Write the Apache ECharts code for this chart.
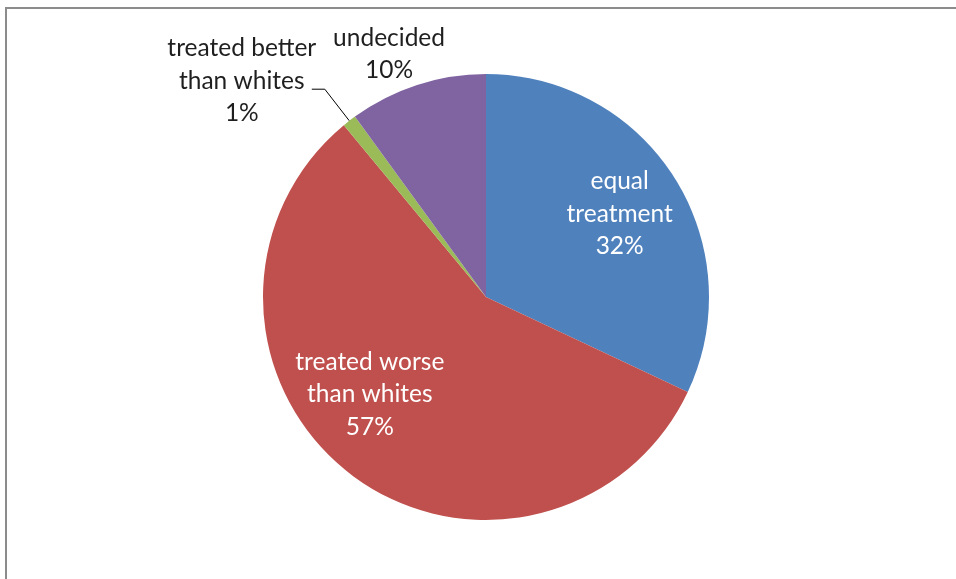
<!DOCTYPE html>
<html>
<head>
<meta charset="utf-8">
<script src="https://cdn.jsdelivr.net/npm/echarts@6/dist/echarts.min.js"></script>
<style>
  html, body { margin: 0; padding: 0; background: #ffffff; }
  #chart { width: 956px; height: 579px; }
</style>
</head>
<body>
<div id="chart"></div>
<script>
// Survey answers, clockwise from twelve o'clock
const categories = ['equal\ntreatment', 'treated worse\nthan whites', 'treated better\nthan whites', 'undecided'];
const shares = [32, 57, 1, 10];
const sliceColors = ['#4F81BD', '#C0504D', '#9BBB59', '#8064A2'];

const FONT = 'Lato, "Noto Sans", sans-serif';
const FONT_SIZE = 24.5;
const LINE_H = 32.5;

// Wrap each text line in a fixed-width rich box so the lines are centred
function centredLines(text, boxWidth) {
  return {
    formatter: text.split('\n').map(t => '{c|' + t + '}').join('\n'),
    rich: { c: { width: boxWidth, align: 'center', fontFamily: FONT, fontSize: FONT_SIZE, lineHeight: LINE_H, color: '#1f1f1f' } }
  };
}

// Per-slice label placement
const labelSettings = [
  { position: 'inside', color: '#ffffff', offset: [37, -22] },
  { position: 'inside', color: '#ffffff', offset: [-46, 7] },
  { position: 'outside', distanceToLabelLine: 5, padding: [0, 0, 17, 0], box: 130,
    line: { show: true, length: 40, length2: 13 } },
  { position: 'outside', distanceToLabelLine: 0, padding: 0, box: 36,
    line: { show: false, length: 32.5, length2: 0 } }
];

const data = categories.map((name, i) => {
  const s = labelSettings[i];
  const text = name + '\n' + shares[i] + '%';
  const item = { name: name, value: shares[i], itemStyle: { color: sliceColors[i] } };
  if (s.position === 'inside') {
    item.label = {
      show: true, position: 'inside', color: s.color, offset: s.offset,
      fontFamily: FONT, fontSize: FONT_SIZE, lineHeight: LINE_H,
      formatter: text
    };
    item.labelLine = { show: false };
  } else {
    const c = centredLines(text, s.box);
    item.label = {
      show: true, position: 'outside', alignTo: 'none',
      distanceToLabelLine: s.distanceToLabelLine, padding: s.padding,
      formatter: c.formatter, rich: c.rich
    };
    item.labelLine = {
      show: s.line.show, length: s.line.length, length2: s.line.length2,
      smooth: false, lineStyle: { color: '#000000', width: 1 }
    };
  }
  return item;
});

const chart = echarts.init(document.getElementById('chart'), null, { renderer: 'canvas' });
chart.setOption({
  backgroundColor: '#ffffff',
  animation: false,
  graphic: [{
    type: 'rect',
    shape: { x: 6, y: 8, width: 1200, height: 1200 },
    style: { fill: 'none', stroke: '#8c8c8c', lineWidth: 2 },
    silent: true
  }],
  series: [{
    type: 'pie',
    center: [486, 297],
    radius: [0, 223],
    startAngle: 90,
    clockwise: true,
    avoidLabelOverlap: false,
    minShowLabelAngle: 0,
    itemStyle: { borderWidth: 0 },
    emphasis: { disabled: true },
    data: data
  }]
});
</script>
</body>
</html>
